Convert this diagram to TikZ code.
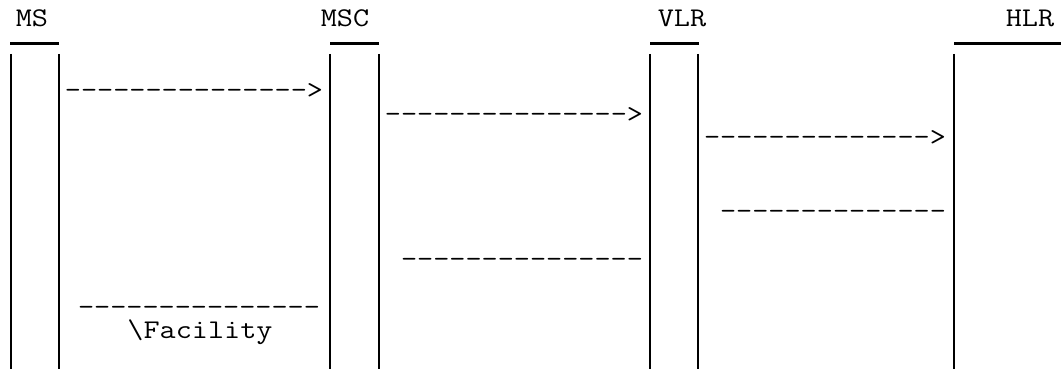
\documentclass[tikz,border=0pt]{standalone}
\usepackage{tikz}
\usetikzlibrary{positioning,calc}
\newcommand{\widetext}[1]{\scalebox{1.16}[1]{#1}}

\begin{document}
\begin{tikzpicture}[x=1pt,y=-1pt,
  lifeline/.style={line width=2.6pt},
  headbar/.style={line width=3pt},
  ascii/.style={font=\fontsize{27}{27}\selectfont\ttfamily,inner sep=0pt,anchor=base}]
\useasboundingbox (0,0) rectangle (1061,369);
% entity names and head bars
\node[ascii] (ms)  at (32,27)   {\widetext{MS}};
\node[ascii] (msc) at (345,27)  {\widetext{MSC}};
\node[ascii] (vlr) at (682,27)  {\widetext{VLR}};
\node[ascii] (hlr) at (1030,27) {\widetext{HLR}};
\draw[headbar] (10,44) -- (59,44);
\draw[headbar] (330,44) -- (379,44);
\draw[headbar] (650,44) -- (699,44);
\draw[headbar] (954,44) -- (1061,44);
% lifelines
\coordinate (msL) at (11,54);   \coordinate (msR) at (59,54);
\coordinate (mscL) at (330,54); \coordinate (mscR) at (379,54);
\coordinate (vlrL) at (650,54); \coordinate (vlrR) at (698,54);
\coordinate (hlrL) at (954,54);
\draw[lifeline] (msL) -- (msL |- 0,370);
\draw[lifeline] (msR) -- (msR |- 0,370);
\draw[lifeline] (mscL) -- (mscL |- 0,370);
\draw[lifeline] (mscR) -- (mscR |- 0,370);
\draw[lifeline] (vlrL) -- (vlrL |- 0,370);
\draw[lifeline] (vlrR) -- (vlrR |- 0,370);
\draw[lifeline] (hlrL) -- (hlrL |- 0,370);
% messages
\node[ascii] (req1) at (194,99)   {\widetext{--------------->}};
\node[ascii] (req2) at (514,122)  {\widetext{--------------->}};
\node[ascii] (req3) at (825,146)  {\widetext{-------------->}};
\node[ascii] (ack3) at (833,219)  {\widetext{--------------}};
\node[ascii] (ack2) at (522,267)  {\widetext{---------------}};
\node[ascii] (ack1) at (199,315)  {\widetext{---------------}};
\node[ascii] (fac)  at (200,338)  {\widetext{\string\Facility}};
\end{tikzpicture}
\end{document}
